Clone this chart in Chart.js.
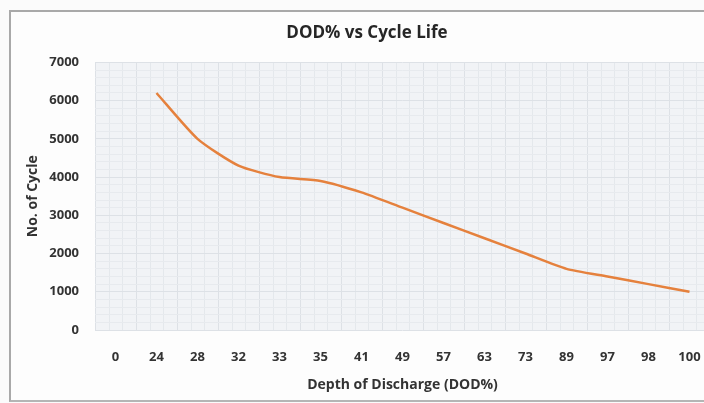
<!DOCTYPE html>
<html>
<head>
<meta charset="utf-8">
<script src="https://cdn.jsdelivr.net/npm/chart.js@4.4.1/dist/chart.umd.min.js"></script>
<style>
  html, body { margin: 0; padding: 0; background: #fbfbfb; overflow: hidden; width: 704px; height: 403px; }
  #wrap {
    position: absolute; left: 9px; top: 10px; width: 712px; height: 388px;
    border-left: 2px solid #a9a9a9; border-top: 2px solid #a9a9a9; border-bottom: 2px solid #b5b5b5;
    background: #fdfdfd;
  }
</style>
</head>
<body>
<div id="wrap"><canvas id="lineChart" width="712" height="388"></canvas></div>
<script>
// DOD% categories and cycle life
const dodLabels = ['0', '24', '28', '32', '33', '35', '41', '49', '57', '63', '73', '89', '97', '98', '100'];
const cycleLife = [null, 6200, 5000, 4300, 4000, 3900, 3600, 3200, 2800, 2400, 2000, 1600, 1400, 1200, 1000];
const yMax = 7000;
const yStep = 1000;

const tickFont = { family: "'Open Sans', sans-serif", size: 13, weight: 'bold' };
const titleFont = { family: "'Open Sans', sans-serif", size: 14, weight: 'bold' };

// light plot background + minor vertical lines between categories
const plotBg = {
  id: 'plotBg',
  beforeDraw: (chart) => {
    const { ctx, chartArea: a, scales } = chart;
    ctx.save();
    ctx.fillStyle = '#f1f3f6';
    ctx.fillRect(a.left, a.top, a.right - a.left, a.bottom - a.top);
    ctx.strokeStyle = '#e4e8ec';
    ctx.lineWidth = 1;
    const n = dodLabels.length * 3;
    for (let i = 1; i < n; i++) {
      if (i % 3 === 0) continue;
      const px = Math.round(scales.x.getPixelForDecimal(i / n)) + 0.5;
      ctx.beginPath();
      ctx.moveTo(px, a.top);
      ctx.lineTo(px, a.bottom);
      ctx.stroke();
    }
    ctx.restore();
  }
};

new Chart('lineChart', {
  type: 'line',
  data: {
    labels: dodLabels,
    datasets: [{
      label: 'No. of Cycle',
      data: cycleLife,
      borderColor: '#e5813d',
      borderWidth: 2.5,
      pointRadius: 0,
      tension: 0.2,
      spanGaps: false
    }]
  },
  options: {
    responsive: false,
    animation: false,
    layout: { padding: 0 },
    plugins: {
      legend: { display: false },
      tooltip: { enabled: false },
      title: {
        display: true,
        text: 'DOD% vs Cycle Life',
        color: '#262626',
        font: { family: "'Open Sans', sans-serif", size: 17, weight: 'bold' },
        padding: { top: 11, bottom: 19 }
      }
    },
    scales: {
      x: {
        offset: true,
        grid: { offset: true, color: '#dde1e6', drawTicks: false },
        border: { display: false },
        ticks: { color: '#333', font: tickFont, padding: 19, maxRotation: 0, autoSkip: false },
        title: {
          display: true,
          text: 'Depth of Discharge (DOD%)',
          color: '#333',
          font: titleFont,
          padding: { top: 11, bottom: 7 }
        },
        afterFit: (s) => { s.height = 70; }
      },
      y: {
        min: 0,
        max: yMax,
        grid: {
          color: (c) => (c.tick && c.tick.value % yStep === 0) ? '#dde1e6' : '#e7eaee',
          drawTicks: false
        },
        border: { display: false },
        ticks: {
          stepSize: 200,
          color: '#333',
          font: tickFont,
          padding: 16,
          autoSkip: false,
          callback: (v) => (v % yStep === 0 ? String(v) : '')
        },
        title: {
          display: true,
          text: 'No. of Cycle',
          color: '#333',
          font: titleFont,
          padding: { top: 14, bottom: 0 }
        },
        afterFit: (s) => { s.width = 84; }
      },
      // empty right-hand axis: only reserves the space past the last category
      yRight: {
        position: 'right',
        display: true,
        grid: { display: false, drawTicks: false },
        border: { display: false },
        ticks: { display: false },
        afterFit: (s) => { s.width = 13; }
      }
    }
  },
  plugins: [plotBg]
});
</script>
</body>
</html>
